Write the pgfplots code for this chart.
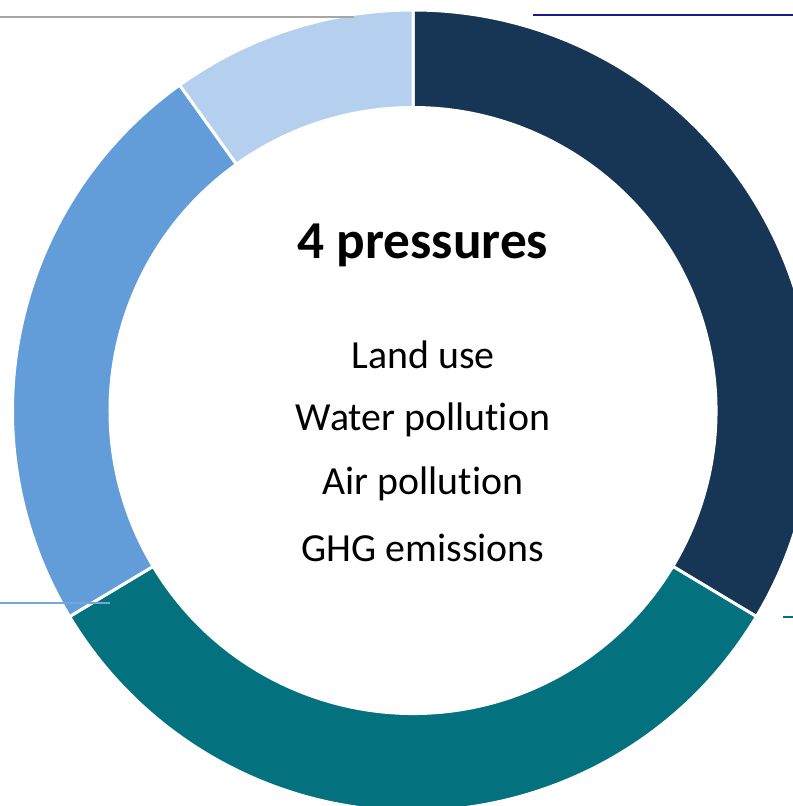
\documentclass[border=0pt]{standalone}
\usepackage{pgfplots}
\usepackage{pgfplotstable}
\pgfplotsset{compat=1.18}
\usepackage{fontspec}
\setmainfont{Carlito}[Ligatures={NoCommon,NoContextual}]
\definecolor{cnavy}{HTML}{173554}
\definecolor{cteal}{HTML}{03727E}
\definecolor{cmid}{HTML}{629CD9}
\definecolor{clight}{HTML}{B5D0EE}
\definecolor{cline}{HTML}{1A1A8C}
\pgfplotstableread{
name value col
A 33.6 cnavy
B 32.8 cteal
C 23.7 cmid
D 9.9 clight
}\donutdata
\begin{document}
\begin{tikzpicture}
\begin{axis}[
  scale only axis, width=793bp, height=806bp,
  xmin=0, xmax=793, ymin=0, ymax=806, y dir=reverse,
  hide axis, clip=true,
]
\addplot[draw=none] coordinates {(0,0) (793,806)};
\def\cx{413}\def\cy{410.5}
\def\angle{90}
\pgfplotsforeachungrouped \i in {0,...,3}{%
  \pgfplotstablegetelem{\i}{value}\of\donutdata
  \let\v\pgfplotsretval
  \pgfplotstablegetelem{\i}{col}\of\donutdata
  \let\c\pgfplotsretval
  \pgfmathsetmacro\a{\angle}%
  \pgfmathsetmacro\b{\angle-3.6*\v}%
  \edef\cmd{\noexpand\fill[\c, draw=white, line width=3bp]
    (axis cs:\cx,\cy) ++(\a:400.5bp) arc[start angle=\a, end angle=\b, radius=400.5bp]
    -- ++(\b:-97.5bp) arc[start angle=\b, end angle=\a, radius=303bp] -- cycle;}%
  \cmd
  \global\let\angle\b
}
\draw[gray!70, line width=2.5bp] (axis cs:0,17) -- (axis cs:354,17);
\draw[cline, line width=2.5bp] (axis cs:533,15) -- (axis cs:793,15);
\draw[cmid!90, line width=1.5bp] (axis cs:0,603) -- (axis cs:110,603);
\draw[cteal, line width=2bp] (axis cs:783,617) -- (axis cs:793,617);
\node[font=\fontsize{53.5}{60}\selectfont\bfseries] at (axis cs:423,245) {4 pressures};
\node[font=\fontsize{40}{48}\selectfont] at (axis cs:423,355) {Land use};
\node[font=\fontsize{40}{48}\selectfont] at (axis cs:423,420) {Water pollution};
\node[font=\fontsize{40}{48}\selectfont] at (axis cs:423,484) {Air pollution};
\node[font=\fontsize{40}{48}\selectfont] at (axis cs:423,548) {GHG emissions};
\end{axis}
\end{tikzpicture}
\end{document}
